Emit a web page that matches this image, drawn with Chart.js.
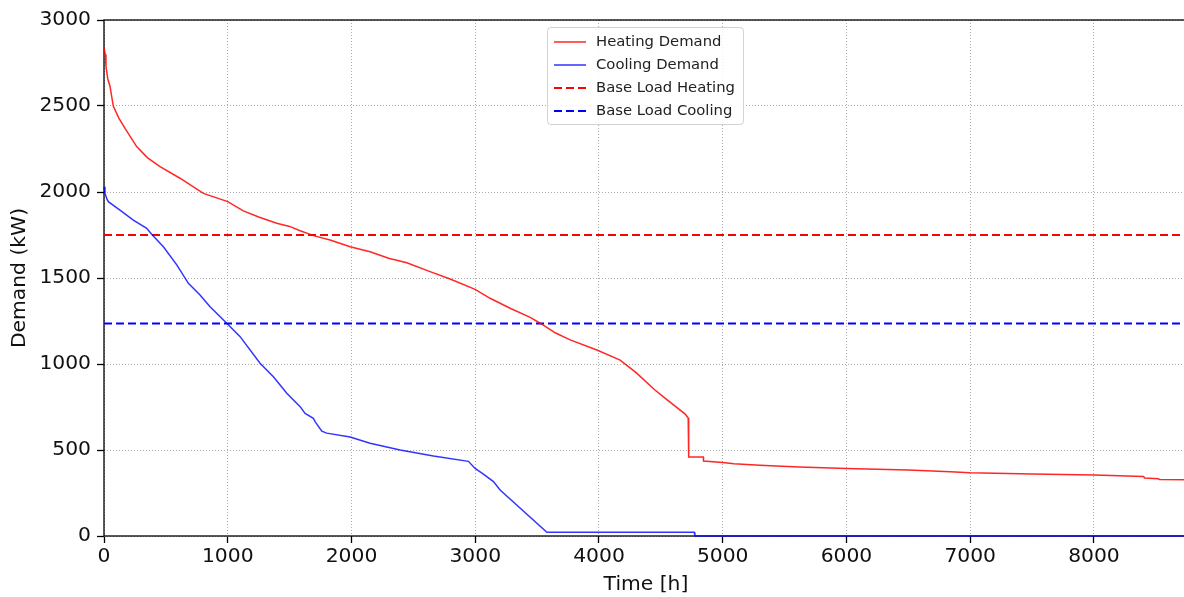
<!DOCTYPE html>
<html>
<head>
<meta charset="utf-8">
<script src="https://cdn.jsdelivr.net/npm/chart.js@4.4.1/dist/chart.umd.min.js"></script>
<style>
html,body{margin:0;padding:0;overflow:hidden;background:#fff;width:1184px;height:597px}
#wrap{position:relative;width:1184px;height:597px;overflow:hidden}
#myChart{position:absolute;left:0;top:0}
#legend{position:absolute;left:547px;top:27px;width:195px;height:94px;border:1px solid #d3d3d3;border-radius:4px;background:rgba(255,255,255,0.85);font-family:'DejaVu Sans',sans-serif;font-size:14.8px;color:#222;padding-top:2px}
.row{position:relative;height:23px}
.row svg{position:absolute;left:5px;top:10px}
.row span{position:absolute;left:48px;top:2px;line-height:18px;white-space:nowrap}
</style>
</head>
<body>
<div id="wrap">
<canvas id="myChart" width="1188" height="597"></canvas>
<div id="legend"></div>
</div>
<script>
'use strict'
// load duration curves
let heatHours=[0,10,16,30,49,75,120,170,264,350,453,614,803,1000,1126,1250,1396,1500,1585,1700,1827,1989,2150,2300,2447,2635,2797,2999,3120,3282,3444,3525,3650,3767,3983,4171,4300,4450,4551,4697,4721,4725,4843,4845,5000,5090,5300,5618,6000,6500,6839,7000,7500,8000,8400,8410,8520,8530,8760]
let heatLoad=[2840,2800,2730,2660,2612,2500,2430,2370,2264,2200,2147,2080,1992,1944,1890,1855,1818,1800,1775,1745,1721,1682,1653,1615,1589,1537,1494,1434,1382,1324,1271,1237,1180,1140,1081,1023,950,850,791,709,686,459,459,436,427,420,412,401,392,383,374,368,360,354,346,337,333,329,327]

let coolHours=[0,8,24,35,129,237,345,385,480,588,682,776,857,992,1100,1261,1369,1477,1585,1625,1692,1706,1760,1800,1989,2150,2393,2662,2945,2999,3066,3147,3201,3579,4770,4775,8760]
let coolLoad=[2030,1992,1958,1944,1895,1837,1789,1754,1682,1576,1469,1401,1333,1237,1159,1004,926,830,752,713,684,665,610,598,575,539,500,465,434,393,360,316,267,22,22,0,0]

let baseHeating=1750
let baseCooling=1235
let yearHours=8760

let xTicks=[0,1000,2000,3000,4000,5000,6000,7000,8000]
let yTicks=[0,500,1000,1500,2000,2500,3000]

let seriesNames=['Heating Demand','Cooling Demand','Base Load Heating','Base Load Cooling']
let seriesColors=['rgba(255,0,0,0.85)','rgba(0,0,255,0.8)','#ff0000','#0000ff']
let seriesDash=[[],[],[8,4],[8,4]]
let seriesWidth=[1.5,1.5,2,2]

function toPoints(xs,ys){
    let pts=[]
    for (let i = 0; i < xs.length; i++) {
        pts.push({x:xs[i],y:ys[i]})
    }
    return pts
}

let allData=[
    toPoints(heatHours,heatLoad),
    toPoints(coolHours,coolLoad),
    toPoints([0,yearHours],[baseHeating,baseHeating]),
    toPoints([0,yearHours],[baseCooling,baseCooling])
]

let datasets=[]
for (let i = 0; i < seriesNames.length; i++) {
    datasets.push({
        label:seriesNames[i],
        data:allData[i],
        borderColor:seriesColors[i],
        borderWidth:seriesWidth[i],
        borderDash:seriesDash[i],
        pointRadius:0,
        tension:0,
        fill:false,
        clip:3
    })
}

// legend box inside the plot, like matplotlib
let legendEl=document.getElementById('legend')
for (let i = 0; i < seriesNames.length; i++) {
    let row=document.createElement('div')
    row.className='row'
    let dash=seriesDash[i].length ? 'stroke-dasharray="'+seriesDash[i].join(',')+'"' : ''
    row.innerHTML='<svg width="34" height="4"><line x1="1" y1="2" x2="33" y2="2" stroke="'+seriesColors[i]+'" stroke-width="'+seriesWidth[i]+'" '+dash+'/></svg><span>'+seriesNames[i]+'</span>'
    legendEl.appendChild(row)
}

// solid frame round the plot (grid lines are dotted)
let spines={
    id:'spines',
    beforeDatasetsDraw(chart){
        let a=chart.chartArea
        let c=chart.ctx
        c.save()
        c.strokeStyle='#000'
        c.lineWidth=1.3
        c.setLineDash([])
        c.strokeRect(a.left,a.top,a.right-a.left,a.bottom-a.top)
        c.restore()
    }
}

function fixedTicks(list){
    return function(s){
        s.ticks=list.map(v=>({value:v}))
    }
}

let font='DejaVu Sans'
let ctx=document.getElementById('myChart').getContext('2d')
let myChart=new Chart(ctx,{
    type:'line',
    data:{datasets:datasets},
    plugins:[spines],
    options:{
        responsive:false,
        animation:false,
        devicePixelRatio:1,
        layout:{padding:{top:20,left:0,right:0,bottom:0}},
        plugins:{legend:{display:false},tooltip:{enabled:false}},
        scales:{
            x:{
                type:'linear',
                min:0,
                max:yearHours,
                afterBuildTicks:fixedTicks(xTicks),
                afterFit(s){s.height=61},
                ticks:{color:'#111',padding:2,font:{family:font,size:20.3},maxRotation:0,autoSkip:false,callback:v=>String(v)},
                grid:{color:'#aaaaaa',lineWidth:1,tickColor:'#000',tickLength:7,tickWidth:1.3,tickBorderDash:[]},
                border:{display:false,dash:[1,2]},
                title:{display:true,text:'Time [h]',color:'#111',font:{family:font,size:20.3},padding:{top:0,bottom:0}}
            },
            y:{
                min:0,
                max:3000,
                afterBuildTicks:fixedTicks(yTicks),
                afterFit(s){s.width=104},
                ticks:{color:'#111',padding:6,font:{family:font,size:20.3},autoSkip:false,callback:v=>String(v)},
                grid:{color:'#aaaaaa',lineWidth:1,tickColor:'#000',tickLength:7,tickWidth:1.3,tickBorderDash:[]},
                border:{display:false,dash:[1,2]},
                title:{display:true,text:'Demand (kW)',color:'#111',font:{family:font,size:20.3},padding:{top:8,bottom:0}}
            }
        }
    }
})
</script>
</body>
</html>
